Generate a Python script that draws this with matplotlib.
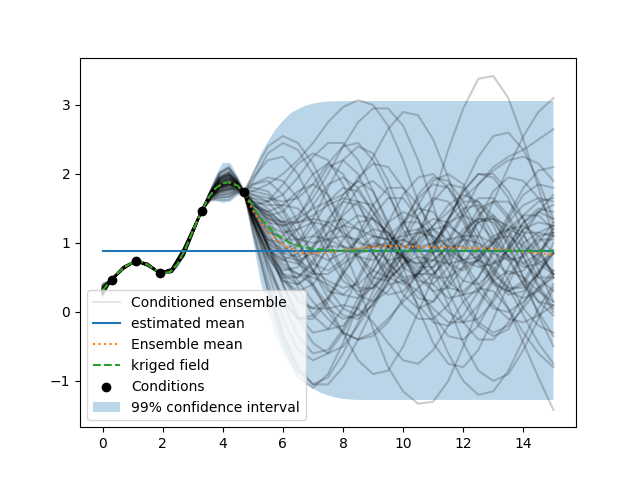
import matplotlib
matplotlib.use("Agg")
import matplotlib.pyplot as plt

# ---------------- data ----------------
cond_x = [0.3, 1.9, 1.1, 3.3, 4.7]
cond_y = [0.47, 0.56, 0.74, 1.47, 1.74]

estimated_mean = 0.885

grid_x = [0.0, 0.25, 0.5, 0.75, 1.0, 1.25, 1.5, 1.75, 2.0, 2.25, 2.5, 2.75,
          3.0, 3.25, 3.5, 3.75, 4.0, 4.25, 4.5, 4.75, 5.0, 5.25, 5.5, 5.75,
          6.0, 6.25, 6.5, 6.75, 7.0, 7.25, 7.5, 7.75, 8.0, 8.25, 8.5, 8.75,
          9.0, 9.25, 9.5, 9.75, 10.0, 10.25, 10.5, 10.75, 11.0, 11.25, 11.5,
          11.75, 12.0, 12.25, 12.5, 12.75, 13.0, 13.25, 13.5, 13.75, 14.0,
          14.25, 14.5, 14.75, 15.0]

kriged_field = ([0.31, 0.445, 0.56, 0.655, 0.72, 0.735, 0.685, 0.61, 0.56, 0.58,
                 0.70, 0.91, 1.17, 1.42, 1.64, 1.79, 1.87, 1.88, 1.83, 1.71,
                 1.535, 1.37, 1.245, 1.13, 1.06, 1.00, 0.96, 0.935, 0.915, 0.905,
                 0.895, 0.89, 0.888] + [0.887] * 28)

ensemble_mean = [0.31, 0.445, 0.56, 0.655, 0.72, 0.735, 0.685, 0.61, 0.56, 0.58,
                 0.70, 0.91, 1.17, 1.42, 1.64, 1.785, 1.865, 1.875, 1.825, 1.70,
                 1.47, 1.31, 1.17, 1.06, 0.98, 0.92, 0.87, 0.85, 0.85, 0.855,
                 0.865, 0.875, 0.89, 0.905, 0.92, 0.935, 0.945, 0.95, 0.955, 0.955,
                 0.95, 0.95, 0.945, 0.945, 0.94, 0.94, 0.935, 0.935, 0.93, 0.93,
                 0.925, 0.92, 0.915, 0.905, 0.895, 0.885, 0.875, 0.865, 0.855,
                 0.845, 0.83]

band_upper = ([0.43, 0.455, 0.57, 0.665, 0.725, 0.74, 0.695, 0.62, 0.57, 0.61,
               0.76, 0.98, 1.22, 1.43, 1.69, 1.96, 2.16, 2.16, 1.97, 1.75,
               2.02, 2.28, 2.47, 2.64, 2.77, 2.88, 2.94, 2.99, 3.02, 3.04,
               3.05, 3.055] + [3.058] * 29)

band_lower = ([0.19, 0.435, 0.55, 0.645, 0.715, 0.73, 0.675, 0.60, 0.55, 0.55,
               0.64, 0.84, 1.12, 1.41, 1.59, 1.62, 1.58, 1.60, 1.69, 1.67,
               1.05, 0.46, 0.02, -0.33, -0.58, -0.77, -0.91, -1.03, -1.11, -1.17,
               -1.21, -1.24, -1.26, -1.27] + [-1.275] * 27)

# ensemble members (x positions and the values of each member)
ens_x = [0.0, 0.3, 0.7, 1.1, 1.5, 1.9, 2.3, 2.7, 3.0, 3.3, 3.6, 3.9, 4.2, 4.45, 4.7,
         5.0, 5.5, 6.0, 6.5, 7.0, 7.5, 8.0, 8.5, 9.0, 9.5, 10.0, 10.5, 11.0,
         11.5, 12.0, 12.5, 13.0, 13.5, 14.0, 14.5, 15.0]

m01 = [0.295, 0.47, 0.65, 0.74, 0.675, 0.565, 0.61, 0.905, 1.19, 1.47, 1.76, 2.01, 2.08, 1.94, 1.74,
       1.35, 1.0, 0.75, 0.7, 0.9, 1.3, 1.7, 1.9, 1.75, 1.3, 0.8, 0.45, 0.4, 0.65, 1.1, 1.5, 1.6, 1.35, 0.9, 0.5, 0.3]
m02 = [0.355, 0.47, 0.63, 0.74, 0.695, 0.565, 0.58, 0.815, 1.14, 1.47, 1.62, 1.62, 1.625, 1.71, 1.74,
       1.95, 2.2, 2.25, 2.0, 1.55, 1.05, 0.6, 0.35, 0.35, 0.6, 1.0, 1.4, 1.65, 1.6, 1.3, 0.85, 0.45, 0.25, 0.3, 0.55, 0.9]
m03 = [0.25, 0.47, 0.655, 0.74, 0.69, 0.565, 0.62, 0.915, 1.19, 1.47, 1.73, 1.92, 1.975, 1.885, 1.74,
       1.45, 0.95, 0.4, -0.05, -0.3, -0.25, 0.05, 0.5, 0.95, 1.3, 1.45, 1.35, 1.05, 0.7, 0.45, 0.4, 0.6, 0.95, 1.3, 1.5, 1.45]
m04 = [0.385, 0.47, 0.635, 0.74, 0.67, 0.565, 0.59, 0.825, 1.15, 1.47, 1.66, 1.73, 1.755, 1.775, 1.74,
       1.75, 1.85, 2.0, 2.2, 2.45, 2.75, 2.97, 3.07, 3.0, 2.7, 2.2, 1.6, 1.05, 0.7, 0.6, 0.75, 1.0, 1.2, 1.25, 1.1, 0.85]
m05 = [0.31, 0.47, 0.645, 0.74, 0.70, 0.565, 0.605, 0.875, 1.17, 1.47, 1.69, 1.805, 1.845, 1.82, 1.74,
       1.5, 1.25, 1.15, 1.2, 1.3, 1.25, 0.95, 0.4, -0.25, -0.8, -1.15, -1.33, -1.3, -1.0, -0.5, 0.05, 0.45, 0.6, 0.5, 0.3, 0.15]
m06 = [0.28, 0.47, 0.625, 0.74, 0.68, 0.565, 0.61, 0.885, 1.18, 1.47, 1.715, 1.88, 1.935, 1.865, 1.74,
       1.4, 1.05, 0.8, 0.75, 0.85, 0.95, 0.95, 0.8, 0.6, 0.5, 0.65, 1.05, 1.65, 2.35, 2.95, 3.38, 3.42, 3.1, 2.5, 1.8, 1.1]
m07 = [0.325, 0.47, 0.65, 0.74, 0.695, 0.565, 0.585, 0.835, 1.155, 1.47, 1.68, 1.785, 1.82, 1.81, 1.74,
       1.6, 1.55, 1.55, 1.5, 1.3, 0.95, 0.55, 0.25, 0.15, 0.3, 0.6, 0.95, 1.2, 1.25, 1.1, 0.8, 0.45, 0.05, -0.45, -0.95, -1.42]
m08 = [0.295, 0.47, 0.63, 0.74, 0.675, 0.565, 0.62, 0.90, 1.185, 1.47, 1.70, 1.84, 1.885, 1.84, 1.74,
       1.3, 0.7, 0.2, -0.1, -0.1, 0.15, 0.55, 0.9, 1.1, 1.05, 0.8, 0.5, 0.3, 0.35, 0.65, 1.1, 1.6, 2.1, 2.55, 2.9, 3.1]
m09 = [0.31, 0.47, 0.645, 0.74, 0.67, 0.565, 0.575, 0.82, 1.145, 1.47, 1.71, 1.86, 1.91, 1.85, 1.74,
       1.25, 0.45, -0.3, -0.8, -1.05, -1.05, -0.8, -0.4, 0.05, 0.45, 0.7, 0.8, 0.75, 0.7, 0.75, 0.9, 1.1, 1.2, 1.1, 0.85, 0.55]
m10 = [0.355, 0.47, 0.635, 0.74, 0.69, 0.565, 0.595, 0.845, 1.15, 1.47, 1.65, 1.695, 1.715, 1.755, 1.74,
       1.9, 2.3, 2.45, 2.35, 2.0, 1.55, 1.1, 0.8, 0.75, 0.95, 1.3, 1.65, 1.85, 1.8, 1.5, 1.05, 0.6, 0.3, 0.2, 0.3, 0.55]
m11 = [0.28, 0.47, 0.655, 0.74, 0.695, 0.565, 0.615, 0.905, 1.19, 1.47, 1.73, 1.93, 1.99, 1.89, 1.74,
       1.45, 1.05, 0.9, 1.0, 1.35, 1.8, 2.2, 2.4, 2.3, 1.9, 1.35, 0.8, 0.4, 0.2, 0.25, 0.5, 0.85, 1.2, 1.4, 1.4, 1.2]
m12 = [0.37, 0.47, 0.63, 0.74, 0.68, 0.565, 0.58, 0.815, 1.145, 1.47, 1.67, 1.75, 1.78, 1.79, 1.74,
       1.6, 1.3, 0.85, 0.35, -0.05, -0.25, -0.2, 0.05, 0.45, 0.85, 1.15, 1.2, 1.0, 0.6, 0.15, -0.2, -0.35, -0.25, 0.1, 0.55, 1.0]
m13 = [0.235, 0.47, 0.65, 0.74, 0.70, 0.565, 0.625, 0.92, 1.20, 1.47, 1.765, 2.025, 2.105, 1.95, 1.74,
       1.3, 0.9, 0.75, 0.85, 1.1, 1.3, 1.35, 1.2, 0.85, 0.45, 0.1, -0.1, -0.1, 0.1, 0.45, 0.8, 1.05, 1.1, 0.95, 0.75, 0.6]
m14 = [0.31, 0.47, 0.635, 0.74, 0.685, 0.565, 0.605, 0.875, 1.175, 1.47, 1.695, 1.825, 1.87, 1.83, 1.74,
       1.55, 1.6, 1.85, 2.15, 2.3, 2.2, 1.85, 1.35, 0.85, 0.5, 0.4, 0.55, 0.9, 1.35, 1.75, 2.0, 2.0, 1.75, 1.35, 0.9, 0.55]
m15 = [0.40, 0.47, 0.645, 0.74, 0.675, 0.565, 0.575, 0.81, 1.14, 1.47, 1.637, 1.66, 1.675, 1.735, 1.74,
       1.85, 1.9, 1.7, 1.3, 0.8, 0.35, 0.05, -0.05, 0.1, 0.45, 0.85, 1.2, 1.35, 1.3, 1.05, 0.7, 0.4, 0.3, 0.45, 0.8, 1.25]
m16 = [0.24, 0.47, 0.625, 0.74, 0.69, 0.565, 0.615, 0.905, 1.19, 1.47, 1.745, 1.965, 2.03, 1.91, 1.74,
       1.35, 0.8, 0.45, 0.4, 0.6, 0.95, 1.25, 1.4, 1.35, 1.15, 0.95, 0.9, 1.0, 1.25, 1.5, 1.55, 1.35, 0.95, 0.5, 0.15, -0.05]
m17 = [0.325, 0.47, 0.65, 0.74, 0.68, 0.565, 0.59, 0.845, 1.16, 1.47, 1.69, 1.82, 1.86, 1.83, 1.74,
       1.45, 1.0, 0.55, 0.2, 0.05, 0.05, 0.1, 0.05, -0.15, -0.45, -0.7, -0.75, -0.55, -0.2, 0.15, 0.35, 0.3, 0.05, -0.3, -0.6, -0.8]
m18 = [0.295, 0.47, 0.64, 0.74, 0.70, 0.565, 0.61, 0.885, 1.18, 1.47, 1.705, 1.855, 1.90, 1.85, 1.74,
       1.55, 1.45, 1.3, 1.0, 0.6, 0.2, -0.05, -0.1, 0.1, 0.55, 1.05, 1.55, 1.9, 2.0, 1.85, 1.5, 1.1, 0.8, 0.7, 0.85, 1.1]
m19 = [0.34, 0.47, 0.63, 0.74, 0.695, 0.565, 0.585, 0.83, 1.15, 1.47, 1.665, 1.74, 1.77, 1.78, 1.74,
       1.7, 1.6, 1.35, 1.0, 0.7, 0.6, 0.75, 1.05, 1.4, 1.65, 1.65, 1.35, 0.85, 0.3, -0.15, -0.4, -0.4, -0.15, 0.25, 0.6, 0.85]
m20 = [0.265, 0.47, 0.655, 0.74, 0.67, 0.565, 0.625, 0.915, 1.195, 1.47, 1.735, 1.94, 2.0, 1.90, 1.74,
       1.35, 0.85, 0.6, 0.65, 0.95, 1.35, 1.6, 1.55, 1.2, 0.7, 0.25, 0.05, 0.15, 0.5, 0.95, 1.3, 1.4, 1.2, 0.8, 0.35, 0.0]
m21 = [0.31, 0.47, 0.635, 0.74, 0.68, 0.565, 0.59, 0.85, 1.165, 1.47, 1.70, 1.84, 1.885, 1.84, 1.74,
       1.5, 1.3, 1.25, 1.35, 1.5, 1.6, 1.7, 1.9, 2.25, 2.65, 2.9, 2.85, 2.5, 1.95, 1.35, 0.9, 0.7, 0.8, 1.1, 1.45, 1.7]
m22 = [0.37, 0.47, 0.645, 0.74, 0.695, 0.565, 0.58, 0.825, 1.15, 1.47, 1.675, 1.77, 1.805, 1.80, 1.74,
       1.6, 1.35, 1.0, 0.7, 0.55, 0.55, 0.7, 0.85, 0.9, 0.75, 0.45, 0.1, -0.15, -0.2, -0.05, 0.3, 0.7, 1.1, 1.4, 1.6, 1.65]
m23 = [0.295, 0.47, 0.63, 0.74, 0.685, 0.565, 0.61, 0.89, 1.18, 1.47, 1.72, 1.895, 1.95, 1.87, 1.74,
       1.4, 0.95, 0.65, 0.55, 0.5, 0.4, 0.25, 0.2, 0.35, 0.75, 1.25, 1.7, 1.95, 1.9, 1.6, 1.15, 0.75, 0.55, 0.6, 0.85, 1.15]
m24 = [0.325, 0.47, 0.65, 0.74, 0.675, 0.565, 0.605, 0.865, 1.17, 1.47, 1.69, 1.82, 1.86, 1.83, 1.74,
       1.5, 1.2, 1.05, 1.05, 1.1, 1.05, 0.95, 0.9, 0.95, 0.95, 0.8, 0.4, -0.1, -0.6, -1.0, -1.2, -1.15, -0.85, -0.4, 0.05, 0.4]
m25 = [0.265, 0.47, 0.635, 0.74, 0.70, 0.565, 0.62, 0.91, 1.19, 1.47, 1.74, 1.95, 2.015, 1.905, 1.74,
       1.4, 1.05, 1.0, 1.2, 1.55, 1.85, 1.95, 1.8, 1.45, 1.1, 0.95, 1.0, 1.25, 1.55, 1.7, 1.6, 1.25, 0.8, 0.4, 0.15, 0.1]
m26 = [0.34, 0.47, 0.655, 0.74, 0.685, 0.565, 0.585, 0.84, 1.155, 1.47, 1.673, 1.765, 1.795, 1.795, 1.74,
       1.65, 1.5, 1.25, 0.85, 0.4, 0.0, -0.3, -0.4, -0.3, -0.1, 0.15, 0.35, 0.55, 0.8, 1.1, 1.4, 1.6, 1.6, 1.35, 0.95, 0.5]
m27 = [0.31, 0.47, 0.625, 0.74, 0.675, 0.565, 0.615, 0.89, 1.18, 1.47, 1.695, 1.825, 1.87, 1.83, 1.74,
       1.45, 1.15, 1.1, 1.35, 1.75, 2.1, 2.2, 2.0, 1.55, 1.05, 0.65, 0.5, 0.65, 1.0, 1.4, 1.65, 1.65, 1.4, 1.0, 0.7, 0.55]
m28 = [0.385, 0.47, 0.64, 0.74, 0.695, 0.565, 0.575, 0.815, 1.14, 1.47, 1.646, 1.687, 1.705, 1.75, 1.74,
       1.8, 1.75, 1.5, 1.15, 0.85, 0.75, 0.85, 1.05, 1.2, 1.15, 0.85, 0.4, -0.05, -0.35, -0.4, -0.2, 0.2, 0.65, 1.0, 1.15, 1.1]
m29 = [0.25, 0.47, 0.65, 0.74, 0.68, 0.565, 0.625, 0.92, 1.20, 1.47, 1.745, 1.97, 2.04, 1.92, 1.74,
       1.3, 0.65, 0.15, -0.1, -0.05, 0.2, 0.55, 0.85, 1.0, 0.95, 0.8, 0.7, 0.75, 0.95, 1.2, 1.35, 1.35, 1.25, 1.15, 1.15, 1.25]
m30 = [0.34, 0.47, 0.63, 0.74, 0.69, 0.565, 0.595, 0.85, 1.16, 1.47, 1.685, 1.80, 1.835, 1.815, 1.74,
       1.55, 1.4, 1.45, 1.7, 2.0, 2.15, 2.0, 1.6, 1.1, 0.7, 0.5, 0.55, 0.75, 0.95, 0.95, 0.75, 0.45, 0.3, 0.4, 0.75, 1.2]
m31 = [0.295, 0.47, 0.645, 0.74, 0.67, 0.565, 0.61, 0.885, 1.18, 1.47, 1.71, 1.875, 1.925, 1.86, 1.74,
       1.4, 0.95, 0.5, 0.15, 0.05, 0.2, 0.6, 1.1, 1.55, 1.8, 1.8, 1.55, 1.2, 0.9, 0.75, 0.8, 1.0, 1.3, 1.55, 1.65, 1.6]
m32 = [0.31, 0.47, 0.635, 0.74, 0.695, 0.565, 0.585, 0.835, 1.155, 1.47, 1.70, 1.84, 1.885, 1.84, 1.74,
       1.5, 1.2, 0.95, 0.75, 0.6, 0.45, 0.35, 0.4, 0.6, 0.95, 1.3, 1.5, 1.45, 1.15, 0.7, 0.3, 0.05, 0.0, 0.15, 0.35, 0.5]
m33 = [0.34, 0.47, 0.65, 0.74, 0.675, 0.565, 0.605, 0.865, 1.17, 1.47, 1.68, 1.785, 1.82, 1.81, 1.74,
       1.6, 1.4, 1.2, 1.05, 1.0, 1.05, 1.1, 1.05, 0.85, 0.6, 0.45, 0.55, 0.85, 1.3, 1.8, 2.25, 2.55, 2.6, 2.35, 1.9, 1.35]
m34 = [0.28, 0.47, 0.625, 0.74, 0.70, 0.565, 0.62, 0.91, 1.19, 1.47, 1.73, 1.915, 1.975, 1.885, 1.74,
       1.4, 0.95, 0.7, 0.55, 0.4, 0.1, -0.3, -0.7, -0.9, -0.85, -0.5, 0.0, 0.5, 0.9, 1.05, 1.0, 0.85, 0.75, 0.8, 1.0, 1.3]
m35 = [0.325, 0.47, 0.645, 0.74, 0.685, 0.565, 0.58, 0.83, 1.15, 1.47, 1.69, 1.805, 1.845, 1.82, 1.74,
       1.55, 1.45, 1.55, 1.75, 1.85, 1.7, 1.3, 0.85, 0.5, 0.45, 0.7, 1.15, 1.6, 1.85, 1.8, 1.45, 0.95, 0.45, 0.05, -0.2, -0.3]
m36 = [0.295, 0.47, 0.635, 0.74, 0.67, 0.565, 0.605, 0.88, 1.175, 1.47, 1.71, 1.86, 1.91, 1.85, 1.74,
       1.45, 1.1, 0.85, 0.8, 0.95, 1.15, 1.25, 1.2, 1.1, 1.05, 1.1, 1.15, 1.1, 0.95, 0.75, 0.65, 0.7, 0.9, 1.2, 1.45, 1.55]
m37 = [0.31, 0.47, 0.655, 0.74, 0.69, 0.565, 0.615, 0.895, 1.185, 1.47, 1.70, 1.84, 1.885, 1.84, 1.74,
       1.35, 0.6, -0.1, -0.55, -0.7, -0.6, -0.3, 0.1, 0.5, 0.75, 0.8, 0.6, 0.3, 0.0, -0.15, -0.1, 0.15, 0.5, 0.85, 1.05, 1.05]
m38 = [0.355, 0.47, 0.63, 0.74, 0.68, 0.565, 0.59, 0.825, 1.15, 1.47, 1.67, 1.75, 1.78, 1.79, 1.74,
       1.7, 1.65, 1.6, 1.65, 1.85, 2.15, 2.4, 2.45, 2.2, 1.75, 1.2, 0.75, 0.5, 0.5, 0.65, 0.75, 0.65, 0.35, -0.05, -0.45, -0.75]
m39 = [0.265, 0.47, 0.65, 0.74, 0.695, 0.565, 0.62, 0.905, 1.19, 1.47, 1.735, 1.94, 2.0, 1.90, 1.74,
       1.2, 0.3, -0.45, -0.95, -1.1, -0.9, -0.45, 0.1, 0.6, 0.95, 1.05, 0.9, 0.6, 0.35, 0.3, 0.5, 0.9, 1.35, 1.7, 1.85, 1.8]
m40 = [0.325, 0.47, 0.625, 0.74, 0.675, 0.565, 0.595, 0.855, 1.165, 1.47, 1.69, 1.82, 1.86, 1.83, 1.74,
       1.5, 1.35, 1.3, 1.4, 1.65, 2.0, 2.4, 2.75, 2.95, 2.95, 2.7, 2.2, 1.55, 0.85, 0.25, -0.15, -0.3, -0.2, 0.05, 0.35, 0.6]
m41 = [0.31, 0.47, 0.645, 0.74, 0.70, 0.565, 0.58, 0.82, 1.145, 1.47, 1.695, 1.825, 1.87, 1.83, 1.74,
       1.55, 1.35, 1.25, 1.3, 1.35, 1.3, 1.15, 1.0, 0.95, 1.0, 1.05, 0.95, 0.6, 0.1, -0.45, -0.85, -1.0, -0.9, -0.55, -0.1, 0.35]
m42 = [0.295, 0.47, 0.635, 0.74, 0.69, 0.565, 0.625, 0.915, 1.195, 1.47, 1.72, 1.895, 1.95, 1.87, 1.74,
       1.45, 0.95, 0.55, 0.4, 0.55, 0.95, 1.45, 1.8, 1.9, 1.7, 1.3, 0.95, 0.85, 1.05, 1.45, 1.85, 2.1, 2.25, 2.35, 2.5, 2.65]
m43 = [0.30, 0.47, 0.645, 0.74, 0.69, 0.565, 0.61, 0.895, 1.185, 1.47, 1.76, 2.01, 2.085, 1.94, 1.74,
       1.15, 0.35, -0.35, -0.85, -1.05, -0.95, -0.6, -0.15, 0.3, 0.65, 0.85, 0.95, 1.0, 1.05, 1.1, 1.1, 1.0, 0.75, 0.4, 0.0, -0.35]
m44 = [0.36, 0.47, 0.635, 0.74, 0.68, 0.565, 0.585, 0.83, 1.15, 1.47, 1.635, 1.655, 1.665, 1.73, 1.74,
       2.0, 2.4, 2.55, 2.45, 2.15, 1.7, 1.2, 0.75, 0.4, 0.25, 0.3, 0.55, 0.95, 1.35, 1.6, 1.6, 1.4, 1.05, 0.7, 0.5, 0.5]
m45 = [0.29, 0.47, 0.64, 0.74, 0.68, 0.565, 0.60, 0.87, 1.175, 1.47, 1.715, 1.88, 1.935, 1.865, 1.74,
       1.35, 0.75, 0.15, -0.35, -0.6, -0.55, -0.25, 0.2, 0.7, 1.1, 1.3, 1.3, 1.1, 0.85, 0.7, 0.75, 1.0, 1.4, 1.8, 2.05, 2.1]
m46 = [0.33, 0.47, 0.645, 0.74, 0.69, 0.565, 0.595, 0.85, 1.16, 1.47, 1.68, 1.79, 1.825, 1.81, 1.74,
       1.65, 1.6, 1.7, 1.95, 2.25, 2.45, 2.45, 2.2, 1.75, 1.25, 0.8, 0.55, 0.55, 0.75, 1.05, 1.3, 1.35, 1.15, 0.8, 0.4, 0.05]
m47 = [0.28, 0.47, 0.65, 0.74, 0.685, 0.565, 0.615, 0.90, 1.185, 1.47, 1.735, 1.94, 2.005, 1.90, 1.74,
       1.3, 0.85, 0.55, 0.5, 0.7, 1.05, 1.4, 1.6, 1.55, 1.2, 0.65, 0.05, -0.45, -0.75, -0.8, -0.55, -0.1, 0.4, 0.85, 1.1, 1.15]
m48 = [0.35, 0.47, 0.635, 0.74, 0.69, 0.565, 0.59, 0.84, 1.155, 1.47, 1.67, 1.755, 1.785, 1.79, 1.74,
       1.75, 1.7, 1.45, 1.05, 0.6, 0.3, 0.25, 0.45, 0.85, 1.3, 1.7, 1.95, 2.0, 1.8, 1.4, 0.95, 0.55, 0.35, 0.35, 0.55, 0.85]
m49 = [0.30, 0.47, 0.64, 0.74, 0.68, 0.565, 0.605, 0.875, 1.175, 1.47, 1.71, 1.865, 1.915, 1.855, 1.74,
       1.45, 0.95, 0.4, -0.1, -0.45, -0.6, -0.5, -0.2, 0.15, 0.4, 0.45, 0.3, 0.05, -0.15, -0.15, 0.1, 0.5, 0.95, 1.3, 1.45, 1.35]
m50 = [0.32, 0.47, 0.64, 0.74, 0.69, 0.565, 0.60, 0.86, 1.17, 1.47, 1.69, 1.815, 1.855, 1.825, 1.74,
       1.55, 1.4, 1.3, 1.3, 1.4, 1.55, 1.65, 1.6, 1.35, 0.95, 0.5, 0.2, 0.15, 0.4, 0.85, 1.35, 1.75, 1.95, 1.9, 1.65, 1.3]
m51 = [0.285, 0.47, 0.645, 0.74, 0.685, 0.565, 0.61, 0.89, 1.18, 1.47, 1.725, 1.91, 1.965, 1.88, 1.74,
       1.35, 0.85, 0.45, 0.3, 0.4, 0.7, 1.05, 1.3, 1.35, 1.15, 0.85, 0.65, 0.65, 0.85, 1.15, 1.35, 1.3, 1.0, 0.5, -0.05, -0.5]
m52 = [0.345, 0.47, 0.64, 0.74, 0.68, 0.565, 0.595, 0.845, 1.155, 1.47, 1.655, 1.715, 1.735, 1.765, 1.74,
       1.85, 1.95, 1.9, 1.65, 1.25, 0.8, 0.45, 0.3, 0.35, 0.55, 0.8, 1.05, 1.25, 1.45, 1.65, 1.85, 2.05, 2.2, 2.25, 2.15, 1.9]
m53 = [0.31, 0.47, 0.64, 0.74, 0.685, 0.565, 0.60, 0.865, 1.17, 1.47, 1.70, 1.84, 1.885, 1.84, 1.74,
       1.5, 1.15, 0.8, 0.45, 0.15, -0.1, -0.3, -0.4, -0.35, -0.15, 0.2, 0.6, 1.0, 1.3, 1.4, 1.3, 1.05, 0.8, 0.65, 0.7, 0.85]
m54 = [0.29, 0.47, 0.64, 0.74, 0.69, 0.565, 0.61, 0.885, 1.18, 1.47, 1.72, 1.89, 1.945, 1.87, 1.74,
       1.4, 1.0, 0.85, 0.95, 1.25, 1.6, 1.8, 1.75, 1.45, 1.05, 0.75, 0.7, 0.95, 1.35, 1.75, 2.0, 1.95, 1.65, 1.15, 0.6, 0.15]
m55 = [0.325, 0.47, 0.635, 0.74, 0.68, 0.565, 0.60, 0.86, 1.165, 1.47, 1.69, 1.805, 1.845, 1.82, 1.74,
       1.6, 1.45, 1.15, 0.75, 0.35, 0.05, -0.1, -0.05, 0.2, 0.55, 0.9, 1.15, 1.2, 1.05, 0.75, 0.4, 0.1, -0.1, -0.15, -0.05, 0.1]
m56 = [0.28, 0.47, 0.65, 0.74, 0.69, 0.565, 0.615, 0.895, 1.185, 1.47, 1.73, 1.925, 1.985, 1.89, 1.74,
       1.3, 0.8, 0.5, 0.5, 0.75, 1.15, 1.6, 1.95, 2.15, 2.1, 1.8, 1.35, 0.85, 0.45, 0.25, 0.3, 0.55, 0.9, 1.2, 1.3, 1.25]

ensemble = [m01, m02, m03, m04, m05, m06, m07, m08, m09, m10, m11, m12, m13, m14,
            m15, m16, m17, m18, m19, m20, m21, m22, m23, m24, m25, m26, m27, m28,
            m29, m30, m31, m32, m33, m34, m35, m36, m37, m38, m39, m40, m41, m42,
            m43, m44, m45, m46, m47, m48, m49, m50, m51, m52, m53, m54, m55, m56]

# ---------------- plot ----------------
fig, ax = plt.subplots(figsize=(6.4, 4.8), dpi=100)

for i, member in enumerate(ensemble):
    ax.plot(ens_x, member, color="k", alpha=0.2,
            label="Conditioned ensemble" if i == 0 else None)

ax.plot(grid_x, [estimated_mean] * len(grid_x), label="estimated mean")
ax.plot(grid_x, ensemble_mean, linestyle=":", label="Ensemble mean")
ax.plot(grid_x, kriged_field, linestyle="dashed", label="kriged field")
ax.scatter(cond_x, cond_y, color="k", zorder=10, label="Conditions")
ax.fill_between(grid_x, band_lower, band_upper, alpha=0.3,
                label="99% confidence interval")

ax.set_xlim(-0.75, 15.75)
ax.set_ylim(-1.67, 3.687)

leg = ax.legend(loc="lower left")
leg.legend_handles[0].set_alpha(0.1)

fig.savefig("out.png", dpi=100)
